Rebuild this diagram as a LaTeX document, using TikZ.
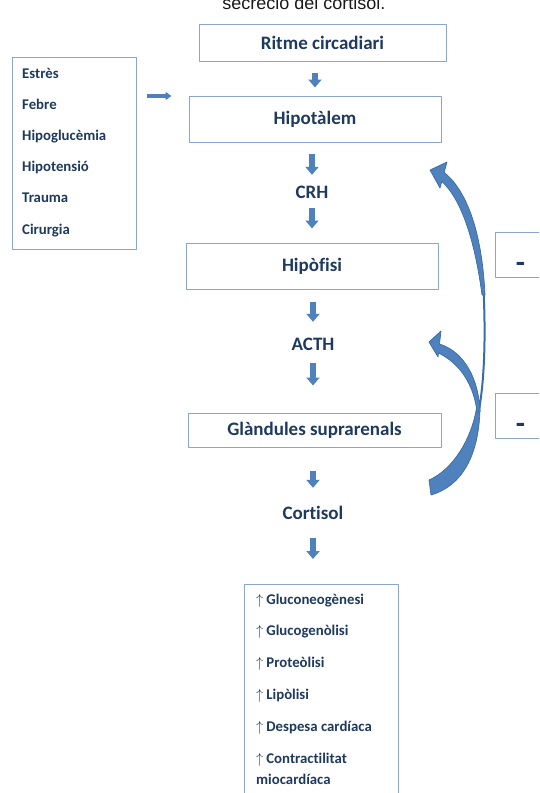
\documentclass[tikz,border=0pt]{standalone}
\usepackage{fontspec}
\setmainfont[Ligatures={TeX,NoCommon}]{Carlito}
\newfontfamily\titlefont{Liberation Sans}
\usetikzlibrary{arrows.meta}
\usetikzlibrary{calc}
\definecolor{navy}{HTML}{1F3A5F}
\definecolor{boxline}{HTML}{8AA6CC}
\definecolor{arrowfill}{HTML}{4F81BD}
\definecolor{arrowline}{HTML}{3B6CA5}

\begin{document}
\begin{tikzpicture}[line cap=round,line join=round,x=1pt,y=-1pt,
  box/.style={draw=boxline,line width=1pt,fill=white,text=navy,font=\fontsize{19}{23}\selectfont\bfseries,inner sep=0pt},
  plain/.style={text=navy,font=\fontsize{19}{23}\selectfont\bfseries,inner sep=0pt,minimum width=250,minimum height=30},
  item/.style={text=navy,font=\fontsize{14.8}{18}\selectfont\bfseries,inner sep=0pt,anchor=base west},
  minus/.style={box,font=\fontsize{30}{32}\selectfont\bfseries,minimum width=50,minimum height=45,anchor=north west,text height=34pt,text depth=0pt},
  flow/.style 2 args={draw=arrowfill,line width=6pt,line cap=butt,-{Triangle[width=13pt,length=8pt]},shorten <=#1,shorten >=#2},
  side/.style={draw=arrowfill,line width=3.5pt,line cap=butt,-{Triangle[width=8pt,length=6pt]}},
  feedback/.style={fill=arrowfill,draw=arrowline,line width=0.7pt}]
\useasboundingbox (0,0) rectangle (539,793);
\clip (0,0) rectangle (539,793);
\node[font=\titlefont\fontsize{18}{20}\selectfont,text=black!90,anchor=base] (titol) at (304,9.5) {secreció del cortisol.};
\node[box,minimum width=247,minimum height=37] (ritme) at (322.5,42.5) {Ritme circadiari};
\node[box,minimum width=252,minimum height=46] (hipot) at (315,119) {Hipotàlem};
\node[plain] (crh) at (312,192) {CRH};
\node[box,minimum width=252,minimum height=46] (hipof) at (312,266) {Hipòfisi};
\node[plain] (acth) at (313,344) {ACTH};
\node[box,minimum width=253,minimum height=34] (gland) at (314.5,430) {Glàndules suprarenals};
\node[plain] (cort) at (313,513) {Cortisol};
\node[box,minimum width=154,minimum height=220,anchor=north west] (efectes) at (244,584) {};
\node[box,minimum width=124,minimum height=192,anchor=north west] (estimuls) at (12,57) {};
\node[minus] (menys1) at (495,232) {-};
\node[minus] (menys2) at (495,393) {-};
\foreach \t [count=\i] in {Estrès,Febre,Hipoglucèmia,Hipotensió,Trauma,Cirurgia}
  \node[item] (estimul\i) at (22,{78+31.2*(\i-1)}) {\t};
\foreach \t [count=\i] in {Gluconeogènesi,Glucogenòlisi,Proteòlisi,Lipòlisi,Despesa cardíaca,Contractilitat}
  \node[item] (efecte\i) at (256,{604+31.8*(\i-1)}) {$\uparrow$\hspace{3pt}\t};
\node[item] (efecte7) at (256,784) {miocardíaca};
\draw[side] ($(estimuls.north east)+(10,39)$) -- ($(estimuls.north east -| hipot.west)+(-17,39)$);
\draw[flow={11}{8}] (hipot.north |- ritme.south) -- (hipot.north);
\draw[flow={11}{2}] (crh.north |- hipot.south) -- (crh.north);
\draw[flow={1}{14}] (crh.south) -- (hipof.north -| crh.south);
\draw[flow={12}{7}] (acth.north |- hipof.south) -- (acth.north);
\draw[flow={4}{27}] (acth.south) -- (gland.north -| acth.south);
\draw[flow={23}{10}] (cort.north |- gland.south) -- (cort.north);
\draw[flow={10}{25}] (cort.south) -- (efectes.north -| cort.south);
\draw[arrowline,line width=2pt] (483.5,290) .. controls (486,340) and (484,385) .. (478.5,412);
\filldraw[feedback] (430,170) -- (447,162) -- (444.2,172.4) .. controls (466,190) and (482,230) .. (485,295) -- (482,295) .. controls (475,242) and (462,200) .. (441.8,181.5) -- (440,188) -- cycle;
\filldraw[feedback] (429,480) .. controls (452,470) and (472,440) .. (477,405) -- (480,400) .. controls (481,450) and (465,485) .. (431,495) -- cycle;
\filldraw[feedback] (429,342) -- (441,331) -- (439.5,344) .. controls (465,352) and (479,380) .. (480,412) -- (477,412) .. controls (474,386) and (461,364) .. (438.5,353) -- (438,357) -- cycle;
\end{tikzpicture}
\end{document}
